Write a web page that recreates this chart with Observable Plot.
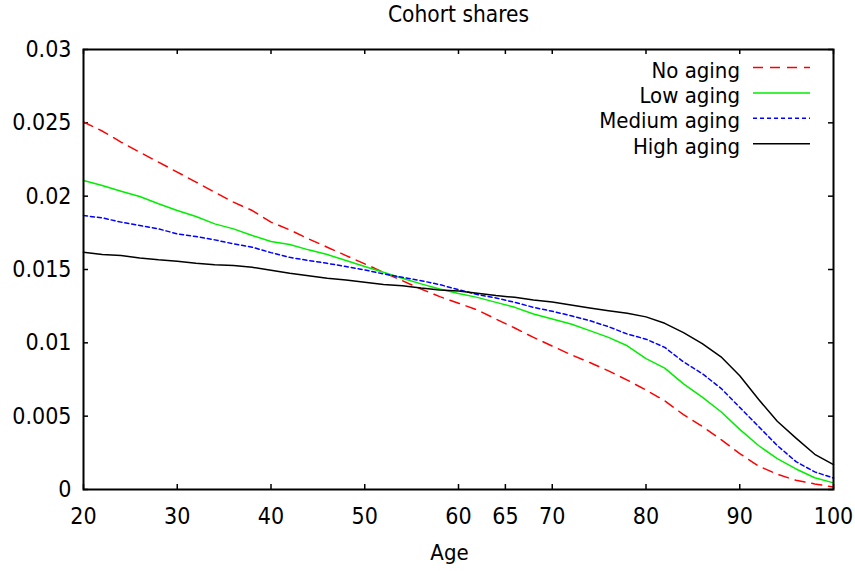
<!DOCTYPE html>
<html>
<head>
<meta charset="utf-8">
<script src="https://cdn.jsdelivr.net/npm/d3@7"></script>
<script src="https://cdn.jsdelivr.net/npm/@observablehq/plot@0.6"></script>
<style>
  body { margin: 0; background: #fff; }
  #wrap { position: relative; width: 855px; height: 571px; }
  #wrap svg { position: absolute; left: 0; top: 0; }
</style>
</head>
<body>
<div id="wrap"></div>
<script>
// ---- Data ----
const ages = [20,22,24,26,28,30,32,34,36,38,40,42,44,46,48,50,52,54,56,58,60,
              62,64,66,68,70,72,74,76,78,80,82,84,86,88,90,92,94,96,98,100];

const noAging = [0.02506,0.02444,0.02369,0.02300,0.02232,0.02164,0.02096,0.02027,0.01959,0.01902,0.01823,
                 0.01770,0.01709,0.01652,0.01595,0.01538,0.01481,0.01424,0.01367,0.01315,0.01270,
                 0.01224,0.01162,0.01101,0.01037,0.00978,0.00919,0.00866,0.00809,0.00746,0.00678,
                 0.00605,0.00510,0.00430,0.00340,0.00245,0.00160,0.00104,0.00063,0.00038,0.00017];

const lowAging = [0.02107,0.02073,0.02034,0.01998,0.01948,0.01902,0.01861,0.01811,0.01777,0.01732,0.01691,
                  0.01670,0.01634,0.01602,0.01561,0.01520,0.01481,0.01440,0.01402,0.01367,0.01336,
                  0.01310,0.01276,0.01242,0.01197,0.01163,0.01128,0.01083,0.01037,0.00980,0.00892,
                  0.00828,0.00720,0.00630,0.00530,0.00410,0.00300,0.00210,0.00140,0.00080,0.00045];

const mediumAging = [0.01868,0.01852,0.01823,0.01800,0.01777,0.01743,0.01725,0.01702,0.01675,0.01652,0.01615,
                     0.01583,0.01561,0.01542,0.01520,0.01497,0.01470,0.01447,0.01424,0.01397,0.01362,
                     0.01329,0.01306,0.01276,0.01242,0.01215,0.01185,0.01151,0.01110,0.01060,0.01025,
                     0.00969,0.00870,0.00790,0.00690,0.00560,0.00430,0.00300,0.00190,0.00120,0.00078];

const highAging = [0.01618,0.01602,0.01595,0.01579,0.01566,0.01556,0.01542,0.01533,0.01527,0.01515,0.01495,
                   0.01474,0.01458,0.01440,0.01429,0.01413,0.01397,0.01390,0.01374,0.01361,0.01353,
                   0.01338,0.01322,0.01310,0.01292,0.01278,0.01258,0.01238,0.01219,0.01201,0.01177,
                   0.01133,0.01070,0.00995,0.00905,0.00775,0.00615,0.00465,0.00350,0.00240,0.00170];

const seriesNames  = ["No aging", "Low aging", "Medium aging", "High aging"];
const seriesValues = [noAging, lowAging, mediumAging, highAging];
const seriesColors = ["#ff0000", "#00ee00", "#0000ff", "#000000"];
const seriesDash   = ["10,7", null, "4,3", null];

const xTicks = [20, 30, 40, 50, 60, 65, 70, 80, 90, 100];
const yTicks = [0, 0.005, 0.01, 0.015, 0.02, 0.025, 0.03];
const titleText = "Cohort shares";
const xLabel = "Age";

// ---- Layout ----
const W = 855, H = 571;
const mTop = 49, mRight = 22, mBottom = 82, mLeft = 83;
const innerW = W - mLeft - mRight, innerH = H - mTop - mBottom;
const tickLen = 5;
const font = "'DejaVu Sans Condensed', 'DejaVu Sans', sans-serif";

const rows = seriesNames.map((name, i) =>
  ages.map((a, j) => ({age: a, value: seriesValues[i][j], series: name})));

const plot = Plot.plot({
  width: W, height: H,
  marginTop: mTop, marginRight: mRight, marginBottom: mBottom, marginLeft: mLeft,
  style: {fontFamily: font, fontSize: "23px", color: "#000", background: "#fff"},
  x: {domain: [20, 100]},
  y: {domain: [0, 0.03]},
  marks: [
    Plot.axisX({ticks: xTicks, tickSize: 0, tickPadding: 18, label: null, fontSize: 23}),
    Plot.axisY({ticks: yTicks, tickSize: 0, tickPadding: 12, label: null, fontSize: 23,
                tickFormat: d3.format("~g")}),
    // inward mirrored ticks
    Plot.tickX(xTicks, {x: d => d, insetTop: innerH - tickLen, stroke: "#000", strokeWidth: 1.5}),
    Plot.tickX(xTicks, {x: d => d, insetBottom: innerH - tickLen, stroke: "#000", strokeWidth: 1.5}),
    Plot.tickY(yTicks, {y: d => d, insetRight: innerW - tickLen, stroke: "#000", strokeWidth: 1.5}),
    Plot.tickY(yTicks, {y: d => d, insetLeft: innerW - tickLen, stroke: "#000", strokeWidth: 1.5}),
    ...rows.map((r, i) => Plot.line(r, {
      x: "age", y: "value",
      stroke: seriesColors[i], strokeWidth: 1.5,
      strokeDasharray: seriesDash[i] ?? undefined
    })),
    Plot.frame({stroke: "#000", strokeWidth: 2}),
    Plot.text([titleText], {frameAnchor: "top", dy: -35, fontSize: 22.5, lineAnchor: "middle", fill: "#000"}),
    Plot.text([xLabel], {frameAnchor: "bottom", dy: 63, dx: -9, fontSize: 22, lineAnchor: "middle", fill: "#000"})
  ]
});

const wrap = document.getElementById("wrap");
wrap.appendChild(plot);

// ---- Legend (gnuplot-style key, top-right inside plot) ----
const leg = d3.select(wrap).append("svg")
  .attr("width", W).attr("height", H)
  .style("pointer-events", "none");
const keyTextRight = 740, keyLineX1 = 753, keyLineX2 = 810;
const keyBaseline0 = 77.5, keyStep = 25.4, keyLineOffset = -10;
seriesNames.forEach((name, i) => {
  const yb = keyBaseline0 + i * keyStep;
  leg.append("text")
    .attr("x", keyTextRight).attr("y", yb)
    .attr("text-anchor", "end")
    .attr("font-family", font).attr("font-size", 22)
    .attr("fill", "#000")
    .text(name);
  leg.append("line")
    .attr("x1", keyLineX1).attr("x2", keyLineX2)
    .attr("y1", yb + keyLineOffset).attr("y2", yb + keyLineOffset)
    .attr("stroke", seriesColors[i]).attr("stroke-width", 1.5)
    .attr("stroke-dasharray", seriesDash[i]);
});
</script>
</body>
</html>
